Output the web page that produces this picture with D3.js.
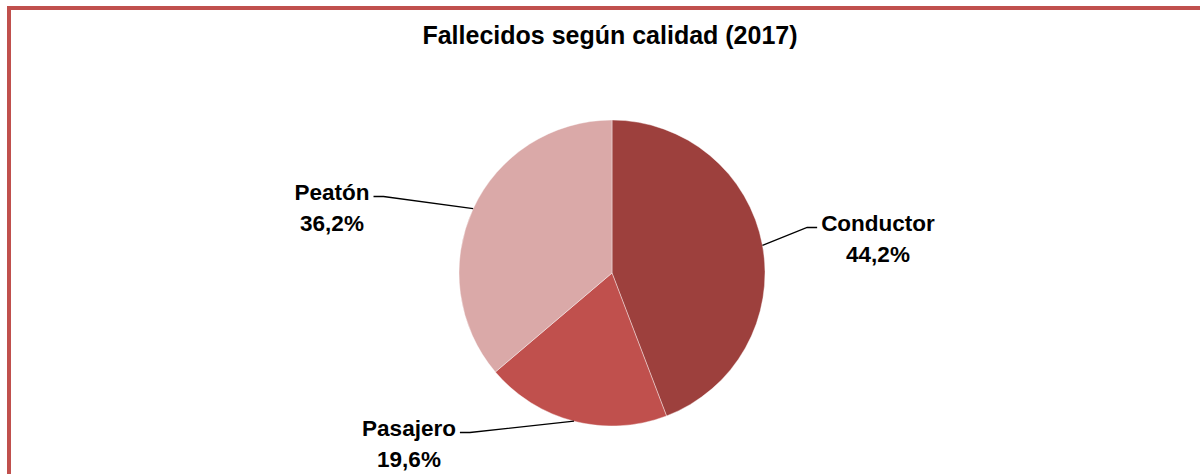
<!DOCTYPE html>
<html>
<head>
<meta charset="utf-8">
<script src="https://cdn.jsdelivr.net/npm/d3@7"></script>
<style>
  html, body { margin: 0; padding: 0; background: #fff; }
  svg { display: block; }
</style>
</head>
<body>
<div id="chart"></div>
<script>
const categories = ['Conductor', 'Pasajero', 'Peatón'];
const values = [44.2, 19.6, 36.2];
const colors = ['#9D403D', '#C0504D', '#DAA9A8'];
const title = 'Fallecidos según calidad (2017)';

// label placement relative to the pie centre (Excel-style manual positions)
const labelOffsets = {
  'Conductor': { dx: 266, dy: -42, side: 'right' },
  'Pasajero':  { dx: -203, dy: 163, side: 'left' },
  'Peatón':    { dx: -280, dy: -73, side: 'left' },
};

const width = 1200, height = 474;
const cx = 612, cy = 273, r = 153;

const svg = d3.select('#chart').append('svg')
    .attr('width', width)
    .attr('height', height)
    .style('font-family', '"Liberation Sans", Arial, sans-serif');

// chart border (only the top and left edges fall inside the frame)
svg.append('rect')
    .attr('x', 9).attr('y', 8)
    .attr('width', 1300).attr('height', 600)
    .attr('fill', 'none')
    .attr('stroke', '#C0504D')
    .attr('stroke-width', 4);

svg.append('text')
    .attr('x', 610).attr('y', 44)
    .attr('text-anchor', 'middle')
    .attr('font-weight', 'bold')
    .attr('font-size', '25px')
    .attr('fill', '#000')
    .text(title);

const data = categories.map((c, i) => ({ name: c, value: values[i], color: colors[i] }));
const fmt = v => d3.format('.1f')(v).replace('.', ',') + '%';

const pie = d3.pie().sort(null).value(d => d.value);
const arcs = pie(data);
const arc = d3.arc().innerRadius(0).outerRadius(r);
const edge = d3.arc().innerRadius(r).outerRadius(r);

const g = svg.append('g').attr('transform', `translate(${cx},${cy})`);

g.selectAll('path.slice')
  .data(arcs)
  .join('path')
    .attr('class', 'slice')
    .attr('d', arc)
    .attr('fill', d => d.data.color)
    .attr('stroke', '#fff')
    .attr('stroke-width', 0.4);

const fontSize = 22.5;
const labels = g.selectAll('g.label')
  .data(arcs)
  .join('g')
    .attr('class', 'label');

labels.each(function(d) {
  const el = d3.select(this);
  const o = labelOffsets[d.data.name];
  const text = el.append('text')
      .attr('text-anchor', 'middle')
      .attr('font-weight', 'bold')
      .attr('font-size', fontSize + 'px')
      .attr('fill', '#000');
  text.append('tspan').attr('x', o.dx).attr('y', o.dy).text(d.data.name);
  text.append('tspan').attr('x', o.dx).attr('y', o.dy + 31).text(fmt(d.data.value));

  const nameW = text.select('tspan').node().getComputedTextLength();
  const ly = o.dy - 3.5;
  const p0 = edge.centroid(d);
  let x1, x2;
  if (o.side === 'right') {
    x1 = o.dx - nameW / 2 - 4;
    x2 = x1 - 10;
  } else {
    x1 = o.dx + nameW / 2 + 4;
    x2 = x1 + 10;
  }
  el.insert('path', 'text')
      .attr('d', d3.line()([[x1, ly], [x2, ly], p0]))
      .attr('fill', 'none')
      .attr('stroke', '#000')
      .attr('stroke-width', 1.3);
});
</script>
</body>
</html>
